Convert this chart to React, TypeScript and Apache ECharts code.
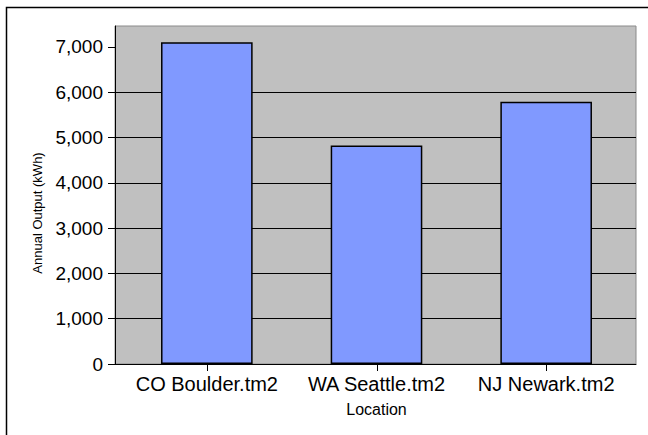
import React, { useEffect, useRef } from "react";
import * as echarts from "echarts";

const categories = ["CO Boulder.tm2", "WA Seattle.tm2", "NJ Newark.tm2"];
const annualOutput = [7100, 4820, 5790];
const yTickValues = [0, 1000, 2000, 3000, 4000, 5000, 6000, 7000];
const yMax = 7460;
const xAxisTitle = "Location";
const yAxisTitle = "Annual Output (kWh)";

const FONT = "Arial, 'Liberation Sans', sans-serif";

export default function App() {
  const ref = useRef<HTMLDivElement>(null);
  useEffect(() => {
    if (!ref.current) return;
    const chart = echarts.init(ref.current, null, { renderer: "svg" });
    const tickData = categories.map((_, i) => [i, 0]);
    chart.setOption({
      animation: false,
      backgroundColor: "#ffffff",
      textStyle: { fontFamily: FONT },
      graphic: [
        {
          type: "rect",
          z: 100,
          silent: true,
          shape: { x: 6.5, y: 7.5, width: 700, height: 500 },
          style: { fill: "none", stroke: "#000", lineWidth: 1.5 },
        },
        {
          type: "text",
          x: 37,
          y: 213,
          rotation: Math.PI / 2,
          style: {
            text: yAxisTitle,
            fill: "#000",
            font: `13px ${FONT}`,
            align: "center",
            verticalAlign: "middle",
          },
        },
      ],
      grid: [
        {
          left: 115,
          top: 26,
          right: 12,
          bottom: 71,
          show: true,
          backgroundColor: "#c0c0c0",
          borderColor: "#8a8a8a",
          borderWidth: 1,
        },
        { left: 122, top: 26, right: 17, bottom: 71 },
      ],
      xAxis: [
        {
          gridIndex: 0,
          type: "category",
          data: [""],
          axisLine: { show: true, lineStyle: { color: "#000", width: 1 } },
          axisTick: { show: false },
          axisLabel: { show: false },
          splitLine: { show: false },
        },
        {
          gridIndex: 1,
          type: "category",
          position: "bottom",
          data: categories,
          axisLine: { show: false },
          axisTick: { show: false },
          axisLabel: {
            interval: 0,
            hideOverlap: false,
            color: "#000",
            fontSize: 20,
            fontFamily: FONT,
            margin: 10,
          },
          name: xAxisTitle,
          nameLocation: "middle",
          nameGap: 37,
          nameTextStyle: { color: "#000", fontSize: 16, fontFamily: FONT },
        },
      ],
      yAxis: [
        {
          gridIndex: 0,
          type: "value",
          min: 0,
          max: yMax,
          interval: 1000,
          axisLine: { show: true, lineStyle: { color: "#000", width: 1 } },
          axisTick: {
            show: true,
            length: 7,
            customValues: yTickValues,
            lineStyle: { color: "#000", width: 1 },
          },
          axisLabel: {
            customValues: yTickValues,
            color: "#000",
            fontSize: 19,
            fontFamily: FONT,
            margin: 12,
            formatter: (v: number) => v.toLocaleString("en-US"),
          },
          splitLine: {
            show: true,
            showMaxLine: false,
            lineStyle: { color: "#000", width: 1 },
          },
        },
        {
          gridIndex: 1,
          type: "value",
          min: 0,
          max: yMax,
          show: false,
          splitLine: { show: false },
        },
      ],
      series: [
        {
          type: "bar",
          xAxisIndex: 1,
          yAxisIndex: 1,
          data: annualOutput,
          barWidth: "54%",
          itemStyle: { color: "#8099ff", borderColor: "#000", borderWidth: 1.5 },
        },
        {
          type: "custom",
          xAxisIndex: 1,
          yAxisIndex: 1,
          clip: false,
          silent: true,
          z: 5,
          data: tickData,
          renderItem: (params: any, api: any) => {
            const p = api.coord([api.value(0), api.value(1)]);
            const x = Math.round(p[0]) + 0.5;
            return {
              type: "line",
              shape: { x1: x, y1: p[1], x2: x, y2: p[1] + 7 },
              style: { stroke: "#000", lineWidth: 1 },
            };
          },
        },
      ],
    });
    return () => chart.dispose();
  }, []);
  return (
    <div
      ref={ref}
      style={{ position: "fixed", left: 0, top: 0, width: 648, height: 435 }}
    />
  );
}
